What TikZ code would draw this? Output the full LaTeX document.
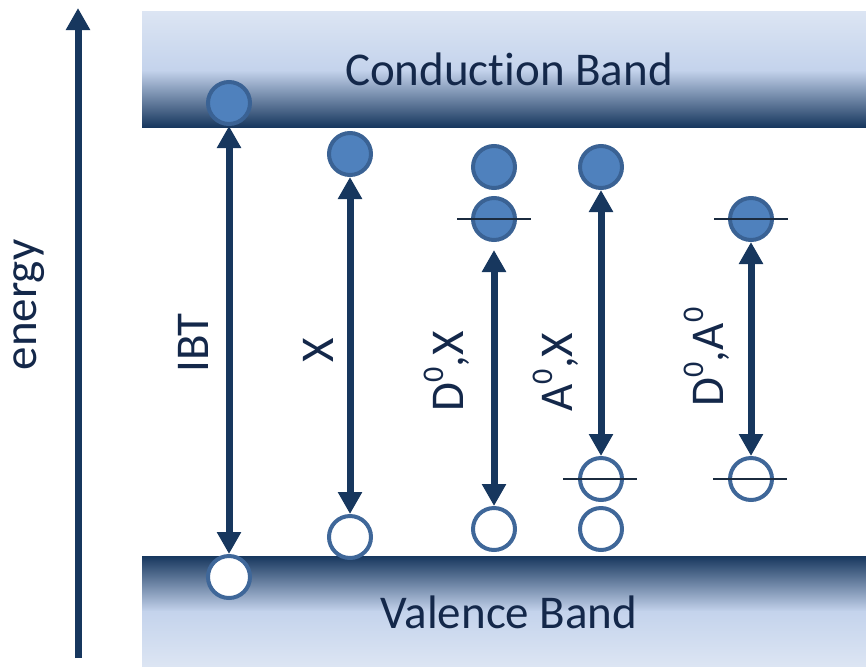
\documentclass[tikz,border=0pt]{standalone}
\usepackage{fontspec}
\setmainfont{Carlito}[Ligatures=NoCommon]
\usetikzlibrary{arrows.meta,calc}
\definecolor{navy}{HTML}{17375E}
\definecolor{txt}{HTML}{14284A}
\definecolor{efill}{HTML}{4F81BD}
\definecolor{eborder}{HTML}{3A6294}
\definecolor{hborder}{HTML}{3F6799}
\definecolor{bandlight}{HTML}{DCE5F3}
\definecolor{bandmid}{HTML}{C4D3EC}
\definecolor{lvl}{HTML}{1B2B3F}
\newcommand{\supz}{\raisebox{0.42em}{\fontsize{30}{30}\selectfont 0}}
\begin{document}
\begin{tikzpicture}[x=1pt,y=-1pt,
 electron/.style={circle,draw=eborder,fill=efill,line width=4pt,minimum size=42pt,inner sep=0pt},
 hole/.style={circle,draw=hborder,fill=white,line width=4pt,minimum size=42pt,inner sep=0pt},
 trans/.style={draw=navy,line width=7pt,{Triangle[width=23pt,length=22pt]}-{Triangle[width=23pt,length=22pt]}},
 axisarrow/.style={draw=navy,line width=7pt,-{Triangle[width=23pt,length=22pt]}},
 lbl/.style={rotate=90,anchor=base,text=txt,font=\fontsize{47}{56}\selectfont,inner sep=0pt},
 bandtext/.style={anchor=base,text=txt,font=\fontsize{47}{56}\selectfont,inner sep=0pt},
 level/.style={draw=lvl,line width=2.2pt}]
\useasboundingbox (0,0) rectangle (866,667);
% bands
\fill[top color=bandlight,bottom color=bandmid] (142,11) rectangle (866,70.5);
\fill[top color=bandmid,bottom color=navy] (142,70) rectangle (866,127);
\fill[top color=navy,bottom color=bandmid] (142,556) rectangle (866,611.5);
\fill[top color=bandmid,bottom color=bandlight] (142,611) rectangle (866,666);
\node[bandtext] (cbt) at (509,85) {Conduction Band};
\node[bandtext] (vbt) at (509,628) {Valence Band};
% energy axis
\coordinate (ebot) at (78,658);
\coordinate (etop) at (78,8);
\draw[axisarrow] (ebot) -- (etop);
\node[lbl] (energy) at (36,305) {energy};
% labels
\node[lbl] (libt) at (208,343) {IBT};
\node[lbl] (lx) at (333,350) {X};
\node[lbl] (ldx) at (463,371) {D\supz,X};
\node[lbl] (lax) at (572,372) {A\supz,X};
\node[lbl] (lda) at (723,357) {D\supz,A\supz};
% particles
\node[electron] (ibtE) at (229,103) {};
\node[hole] (ibtH) at (229,577) {};
\node[electron] (xE) at (350,154) {};
\node[hole] (xH) at (350,537) {};
\node[electron] (dxE1) at (494,167) {};
\node[electron] (dxE2) at (494,219) {};
\node[hole] (dxH) at (494,529) {};
\node[electron] (axE) at (601,167) {};
\node[hole] (axH1) at (601,479) {};
\node[hole] (axH2) at (601,529) {};
\node[electron] (daE) at (751,219) {};
\node[hole] (daH) at (751,479) {};
% transitions
\draw[trans] (ibtH.north) -- (ibtE.south);
\draw[trans] (xH.north) -- (xE.south);
\draw[trans,shorten >=8pt] (dxH.north) -- (dxE2.south);
\draw[trans] (axH1.north) -- (axE.south);
\draw[trans] (daH.north) -- (daE.south);
% levels
\draw[level] ($(dxE2.west)+(-14,0)$) -- ($(dxE2.east)+(14,0)$);
\draw[level] ($(daE.west)+(-14,0)$) -- ($(daE.east)+(14,0)$);
\draw[level] ($(axH1.west)+(-15,0)$) -- ($(axH1.east)+(13,0)$);
\draw[level] ($(daH.west)+(-15,0)$) -- ($(daH.east)+(13,0)$);
\end{tikzpicture}
\end{document}
